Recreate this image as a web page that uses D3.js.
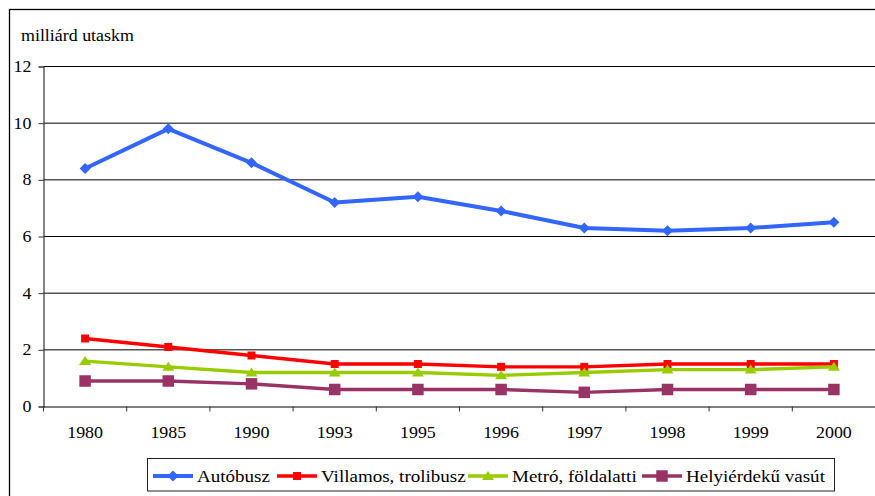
<!DOCTYPE html>
<html>
<head>
<meta charset="utf-8">
<script src="https://cdn.jsdelivr.net/npm/d3@7"></script>
<style>
  html, body { margin: 0; padding: 0; background: #fff; }
  svg { display: block; }
  svg text { font-family: "Liberation Serif", "Times New Roman", Times, "DejaVu Serif", serif !important; fill: #000; }
</style>
</head>
<body>
<svg id="chart" width="875" height="496"></svg>
<script>
// Budapest public transport performance, billion passenger-km
const years = ["1980", "1985", "1990", "1993", "1995", "1996", "1997", "1998", "1999", "2000"];
const autobusz = [8.4, 9.8, 8.6, 7.2, 7.4, 6.9, 6.3, 6.2, 6.3, 6.5];
const villamos = [2.4, 2.1, 1.8, 1.5, 1.5, 1.4, 1.4, 1.5, 1.5, 1.5];
const metro = [1.6, 1.4, 1.2, 1.2, 1.2, 1.1, 1.2, 1.3, 1.3, 1.4];
const helyierdeku = [0.9, 0.9, 0.8, 0.6, 0.6, 0.6, 0.5, 0.6, 0.6, 0.6];
const seriesNames = ["Autóbusz", "Villamos, trolibusz", "Metró, földalatti", "Helyiérdekű vasút"];
const yTicks = [0, 2, 4, 6, 8, 10, 12];
const unitLabel = "milliárd utaskm";

const series = [
  { name: seriesNames[0], values: autobusz, color: "#3366FF", width: 4, marker: "diamond", size: 11 },
  { name: seriesNames[1], values: villamos, color: "#FF0000", width: 3.4, marker: "square", size: 8 },
  { name: seriesNames[2], values: metro, color: "#99CC00", width: 3.4, marker: "triangle", size: 12 },
  { name: seriesNames[3], values: helyierdeku, color: "#993366", width: 3.4, marker: "square", size: 11.5 }
];

// text in this chart is set slightly wide
const STRETCH = 1.12;

const svg = d3.select("#chart");
const plot = { left: 43.5, right: 875.5, top: 66.5, bottom: 406.5 };

// outer frame
svg.append("rect")
  .attr("x", 9.5).attr("y", 9.5)
  .attr("width", 880).attr("height", 500)
  .attr("fill", "none").attr("stroke", "#000").attr("stroke-width", 1.3);

const x = d3.scaleBand().domain(years).range([plot.left, plot.right]).padding(0);
const y = d3.scaleLinear().domain([0, 12]).range([plot.bottom, plot.top]);

// horizontal gridlines
svg.append("g")
  .selectAll("line")
  .data(yTicks.filter(d => d > 0))
  .join("line")
  .attr("x1", plot.left).attr("x2", plot.right)
  .attr("y1", d => y(d)).attr("y2", d => y(d))
  .attr("stroke", "#000").attr("stroke-width", 1);

// y axis
const yAxis = svg.append("g")
  .attr("transform", `translate(${plot.left},0)`)
  .call(d3.axisLeft(y).tickValues(yTicks).tickSize(5).tickPadding(0).tickFormat(d3.format("d")));
yAxis.select(".domain").attr("stroke", "#333").attr("stroke-width", 1.2);
yAxis.selectAll(".tick line").attr("stroke", "#333");
yAxis.selectAll(".tick text")
  .attr("x", 0)
  .attr("transform", `translate(-12,0) scale(${STRETCH},1)`)
  .style("font-size", "16px")
  .attr("fill", "#000");

// x axis
const xAxis = svg.append("g")
  .attr("transform", `translate(0,${plot.bottom})`)
  .call(d3.axisBottom(x).tickSize(0).tickPadding(20));
xAxis.select(".domain").attr("stroke", "#000").attr("stroke-width", 1.2);
xAxis.selectAll(".tick text")
  .attr("transform", `scale(${STRETCH},1)`)
  .style("font-size", "16px")
  .attr("fill", "#000");
// category boundary ticks
svg.append("g")
  .selectAll("line")
  .data(years)
  .join("line")
  .attr("x1", d => x(d)).attr("x2", d => x(d))
  .attr("y1", plot.bottom).attr("y2", plot.bottom + 5)
  .attr("stroke", "#333").attr("stroke-width", 1);

// unit label
svg.append("text")
  .attr("transform", `translate(21,41) scale(${STRETCH},1)`)
  .style("font-size", "16px")
  .text(unitLabel);

function markerPath(type, size) {
  const h = size / 2;
  if (type === "diamond") return `M0,${-h}L${h},0L0,${h}L${-h},0Z`;
  if (type === "triangle") return `M0,${-h * 0.85}L${h},${h * 0.65}L${-h},${h * 0.65}Z`;
  return `M${-h},${-h}H${h}V${h}H${-h}Z`;
}

const cx = i => x(years[i]) + x.bandwidth() / 2;
const line = d3.line().x((d, i) => cx(i)).y(d => y(d));

series.forEach(s => {
  const g = svg.append("g");
  g.append("path")
    .datum(s.values)
    .attr("d", line)
    .attr("fill", "none")
    .attr("stroke", s.color)
    .attr("stroke-width", s.width)
    .attr("stroke-linejoin", "round");
  g.selectAll("path.mk")
    .data(s.values)
    .join("path")
    .attr("class", "mk")
    .attr("transform", (d, i) => `translate(${cx(i)},${y(d)})`)
    .attr("d", markerPath(s.marker, s.size))
    .attr("fill", s.color);
});

// legend
const legend = svg.append("g");
legend.append("rect")
  .attr("x", 147.5).attr("y", 458.5)
  .attr("width", 687).attr("height", 32.5)
  .attr("fill", "#fff").attr("stroke", "#222").attr("stroke-width", 1);
const legendX = [153, 277, 468, 642];
series.forEach((s, i) => {
  const lx = legendX[i], ly = 476;
  legend.append("line")
    .attr("x1", lx).attr("x2", lx + 40)
    .attr("y1", ly).attr("y2", ly)
    .attr("stroke", s.color).attr("stroke-width", s.width);
  legend.append("path")
    .attr("transform", `translate(${lx + 20},${ly})`)
    .attr("d", markerPath(s.marker, s.size))
    .attr("fill", s.color);
  legend.append("text")
    .attr("transform", `translate(${lx + 44},${ly + 6}) scale(${STRETCH},1)`)
    .style("font-size", "17px")
    .text(s.name);
});
</script>
</body>
</html>
